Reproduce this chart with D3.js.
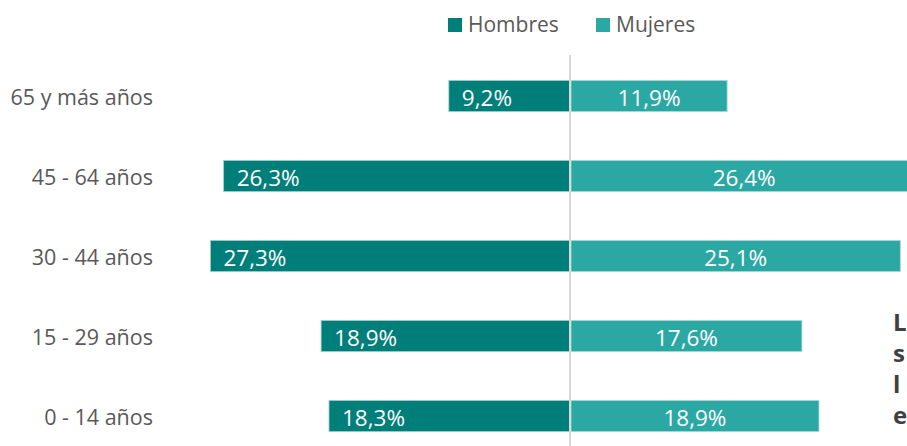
<!DOCTYPE html>
<html><head><meta charset="utf-8">
<script src="https://cdn.jsdelivr.net/npm/d3@7"></script>
<style>html,body{margin:0;padding:0;background:#fff;overflow:hidden}</style>
</head><body>
<svg id="c" width="907" height="446"></svg>
<script>
const categories = ["65 y más años","45 - 64 años","30 - 44 años","15 - 29 años","0 - 14 años"];
const hombres = [9.2, 26.3, 27.3, 18.9, 18.3];
const mujeres = [11.9, 26.4, 25.1, 17.6, 18.9];
const seriesNames = ["Hombres","Mujeres"];
const sideText = ["L","s","l","e"];

const colors = {Hombres:"#007E7A", Mujeres:"#2BA8A4"};
const fmt = v => d3.format(".1f")(v).replace(".", ",") + "%";
const svg = d3.select("#c");
const font = "'Open Sans', 'Noto Sans', sans-serif";
const cx = 570;
const xL = d3.scaleLinear().domain([0, 30]).range([cx, cx - 30*13.17]);
const xR = d3.scaleLinear().domain([0, 30]).range([cx + 1, cx + 1 + 30*13.12]);
const y = d3.scaleBand().domain(categories).range([56, 456]).paddingInner(0.61).paddingOuter(0.305);

// category labels
svg.append("g").selectAll("text").data(categories).join("text")
  .attr("x", 153).attr("y", d => y(d) + y.bandwidth()/2 + 8.5)
  .attr("text-anchor","end")
  .attr("font-family", font).attr("font-size", 21.5).attr("fill","#595959")
  .text(d => d);

// bars
const gL = svg.append("g");
gL.selectAll("rect").data(categories).join("rect")
  .attr("x", (d,i) => xL(hombres[i])).attr("y", d => y(d))
  .attr("width", (d,i) => xL(0) - xL(hombres[i])).attr("height", y.bandwidth())
  .attr("fill", colors.Hombres).attr("stroke","#9fd3d1").attr("stroke-width",0.8);
gL.selectAll("text").data(categories).join("text")
  .attr("x", (d,i) => xL(hombres[i]) + 13).attr("y", d => y(d) + y.bandwidth()/2 + 10)
  .attr("font-family", font).attr("font-size", 22.5)
  .attr("fill","#fff").text((d,i) => fmt(hombres[i]));

const gR = svg.append("g");
gR.selectAll("rect").data(categories).join("rect")
  .attr("x", xR(0)).attr("y", d => y(d))
  .attr("width", (d,i) => xR(mujeres[i]) - xR(0)).attr("height", y.bandwidth())
  .attr("fill", colors.Mujeres).attr("stroke","#a7dcda").attr("stroke-width",0.8);
gR.selectAll("text").data(categories).join("text")
  .attr("x", (d,i) => (xR(0) + xR(mujeres[i]))/2).attr("y", d => y(d) + y.bandwidth()/2 + 10)
  .attr("text-anchor","middle")
  .attr("font-family", font).attr("font-size", 22.5)
  .attr("fill","#fff").text((d,i) => fmt(mujeres[i]));

// center axis line
svg.append("line").attr("x1", cx).attr("x2", cx).attr("y1", 55).attr("y2", 446)
  .attr("stroke","#d9d9d9").attr("stroke-width",2);

// legend
const legX = [448, 596];
const lg = svg.append("g").selectAll("g").data(seriesNames).join("g")
  .attr("transform", (d,i) => `translate(${legX[i]},0)`);
lg.append("rect").attr("x",0).attr("y",18).attr("width",14).attr("height",14)
  .attr("fill", d => colors[d]);
lg.append("text").attr("x",20).attr("y",32)
  .attr("font-family", font).attr("font-size", 21).attr("fill","#595959").text(d => d);

// partially visible side text
svg.append("g").selectAll("text").data(sideText).join("text")
  .attr("x", 893).attr("y", (d,i) => 331 + i*31)
  .attr("font-family", "'Open Sans', sans-serif").attr("font-weight", "bold")
  .attr("font-size", 24).attr("fill","#404040").text(d => d);
</script>
</body></html>
